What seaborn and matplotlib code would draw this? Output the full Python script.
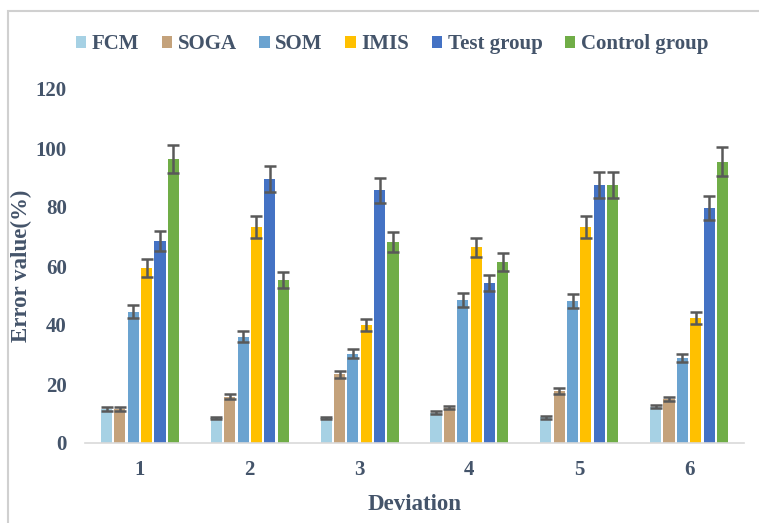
import matplotlib
matplotlib.use("Agg")
import matplotlib.pyplot as plt
from matplotlib.patches import Rectangle
import seaborn as sns
import pandas as pd
import numpy as np

# Deviation levels on the x axis
deviations = ["1", "2", "3", "4", "5", "6"]

# Error value (%) per method at each deviation level
fcm = [11.5, 8.4, 8.4, 10.3, 8.7, 12.3]
soga = [11.5, 15.7, 23.3, 12.0, 17.6, 14.8]
som = [44.5, 36.0, 30.2, 48.5, 48.2, 28.9]
imis = [59.4, 73.3, 40.0, 66.3, 73.1, 42.3]
test_group = [68.6, 89.5, 85.7, 54.1, 87.5, 79.7]
control_group = [96.3, 55.2, 68.2, 61.3, 87.5, 95.4]

# Error bar half-lengths (%)
fcm_err = [0.6, 0.4, 0.4, 0.5, 0.4, 0.6]
soga_err = [0.6, 0.8, 1.2, 0.6, 0.9, 0.7]
som_err = [2.2, 1.8, 1.5, 2.4, 2.4, 1.4]
imis_err = [3.0, 3.7, 2.0, 3.3, 3.7, 2.1]
test_err = [3.4, 4.5, 4.3, 2.7, 4.4, 4.0]
control_err = [4.8, 2.8, 3.4, 3.1, 4.4, 4.8]

methods = ["FCM", "SOGA", "SOM", "IMIS", "Test group", "Control group"]
values = [fcm, soga, som, imis, test_group, control_group]
errors = [fcm_err, soga_err, som_err, imis_err, test_err, control_err]
colors = ["#A6D1E4", "#C4A27B", "#6BA3D0", "#FFC000", "#4472C4", "#70AD47"]

rows = []
for m, vals, errs in zip(methods, values, errors):
    for d, v, e in zip(deviations, vals, errs):
        rows.append({"Deviation": d, "Method": m, "Error": v, "Err": e})
df = pd.DataFrame(rows)

sns.set_theme(style="white")
plt.rcParams["font.family"] = ["Liberation Serif", "DejaVu Serif"]
plt.rcParams["font.weight"] = "bold"
text_color = "#44546A"

fig = plt.figure(figsize=(7.59, 5.23), dpi=100)
ax = fig.add_axes([85 / 759, 1 - 443 / 523, (744 - 85) / 759, (443 - 89) / 523])

sns.barplot(
    data=df, x="Deviation", y="Error", hue="Method",
    order=deviations, hue_order=methods, palette=colors,
    width=0.73, gap=0.17, errorbar=None, saturation=1,
    edgecolor="none", ax=ax,
)

# error bars placed at the centre of each drawn bar
bar_patches = [p for p in ax.patches if isinstance(p, Rectangle) and p.get_height() > 0]
for m_idx, m in enumerate(methods):
    sub = df[df["Method"] == m]
    bars = bar_patches[m_idx * len(deviations):(m_idx + 1) * len(deviations)]
    xs = [b.get_x() + b.get_width() / 2 for b in bars]
    ax.errorbar(xs, sub["Error"].values, yerr=sub["Err"].values, fmt="none",
                ecolor="#595959", elinewidth=1.8, capsize=4.2, capthick=1.8, zorder=5)

ax.set_ylim(0, 120)
ax.set_xlim(-0.5, 5.5)
ax.set_yticks(np.arange(0, 121, 20))
ax.tick_params(axis="y", length=0, pad=13, labelsize=15, labelcolor=text_color)
ax.tick_params(axis="x", which="major", length=0, pad=12, labelsize=15, labelcolor=text_color)
ax.set_xticks(np.arange(-0.5, 6.0, 1.0), minor=True)
ax.tick_params(axis="x", which="minor", length=6, width=1, color="#D9D9D9", direction="out")
for lbl in ax.get_xticklabels() + ax.get_yticklabels():
    lbl.set_fontweight("bold")

for side in ["top", "right", "left"]:
    ax.spines[side].set_visible(False)
ax.spines["bottom"].set_color("#D9D9D9")
ax.spines["bottom"].set_linewidth(1.2)
ax.grid(False)

ax.set_xlabel("Deviation", fontsize=16.5, fontweight="bold", color=text_color, labelpad=10)
ax.set_ylabel("Error value(%)", fontsize=16.5, fontweight="bold", color=text_color)
ax.yaxis.set_label_coords((32 - 85) / 659, 0.5)

handles, labels = ax.get_legend_handles_labels()
ax.legend_.remove()
leg = fig.legend(handles, labels, loc="center", bbox_to_anchor=(392 / 759, 1 - 44 / 523),
                 ncol=6, frameon=False, handlelength=0.5, handleheight=0.5,
                 handletextpad=0.27, columnspacing=1.08,
                 prop={"weight": "bold", "size": 15})
for t in leg.get_texts():
    t.set_color(text_color)

# chart area border
fig.add_artist(Rectangle((8 / 759, -0.05), 1.1, 1 - 11 / 523 + 0.05, transform=fig.transFigure,
                         fill=False, edgecolor="#D0D0D0", linewidth=1.5))

fig.savefig("out.png", dpi=100)
